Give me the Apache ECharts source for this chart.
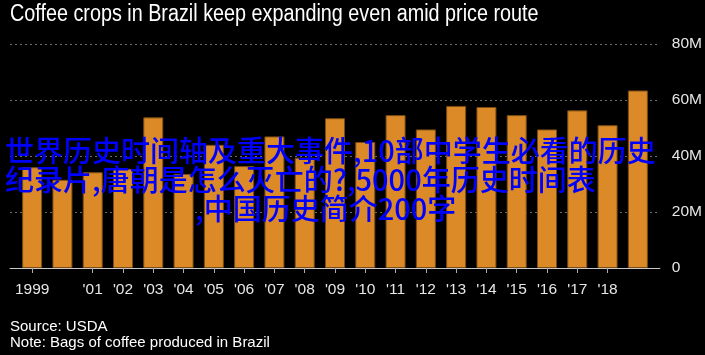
<!DOCTYPE html>
<html>
<head>
<meta charset="utf-8">
<script src="https://cdn.jsdelivr.net/npm/echarts@6/dist/echarts.min.js"></script>
<style>
html,body{margin:0;padding:0;background:#000;}
#chart{width:705px;height:355px;}
</style>
</head>
<body>
<div id="chart"></div>
<script>
var titleText = 'Coffee crops in Brazil keep expanding even amid price route';
var sourceText = 'Source: USDA';
var noteText = 'Note: Bags of coffee produced in Brazil';
var years = ['1999', '2000', '2001', '2002', '2003', '2004', '2005', '2006', '2007', '2008', '2009',
             '2010', '2011', '2012', '2013', '2014', '2015', '2016', '2017', '2018', '2019'];
var yearLabels = ['1999', '', "'01", "'02", "'03", "'04", "'05", "'06", "'07", "'08", "'09",
                  "'10", "'11", "'12", "'13", "'14", "'15", "'16", "'17", "'18", ''];
// millions of bags
var production = [36.0, 31.5, 34.2, 35.4, 53.8, 33.6, 44.0, 36.4, 47.0, 39.4, 53.5,
                  45.0, 54.6, 49.5, 57.9, 57.5, 54.6, 49.5, 56.3, 51.0, 63.4];
var yTicks = [0, 20, 40, 60, 80];
var overlayLines = ['世界历史时间轴及重大事件,10部中学生必看的历史',
                    '纪录片,唐朝是怎么灭亡的?,5000年历史时间表',
                    ',中国历史简介200字'];

var FONT = '"Liberation Sans", Arial, sans-serif';
var CJK = '"Noto Sans CJK SC", sans-serif';
var chart = echarts.init(document.getElementById('chart'));
chart.setOption({
  backgroundColor: '#000',
  animation: false,
  grid: [
    {left: 10, right: 45, top: 44, bottom: 87},
    {left: 17, width: 636, top: 44, bottom: 87}
  ],
  xAxis: [
    {type: 'value', gridIndex: 0, min: 0, max: 1, show: true,
     axisLine: {show: true, lineStyle: {color: '#c8c8c8', width: 1}},
     axisTick: {show: false}, axisLabel: {show: false}, splitLine: {show: false}},
    {type: 'category', gridIndex: 1, data: years,
     axisLine: {show: false},
     axisTick: {show: true, alignWithLabel: true, length: 5,
                interval: function (i) { return yearLabels[i] !== ''; },
                lineStyle: {color: '#aaa'}},
     axisLabel: {interval: 0, color: '#e6e6e6', fontFamily: FONT, fontSize: 15.5, margin: 14,
                 formatter: function (v, i) { return yearLabels[i]; }}}
  ],
  yAxis: [
    {type: 'value', gridIndex: 0, position: 'right', min: yTicks[0], max: yTicks[yTicks.length - 1], interval: 20,
     axisLine: {show: false}, axisTick: {show: false},
     axisLabel: {color: '#e6e6e6', fontFamily: FONT, fontSize: 15.5, margin: 12,
                 formatter: function (v) { return v === 0 ? '0' : v + 'M'; }},
     splitLine: {show: true, lineStyle: {color: '#6e6e6e', type: [2, 3], width: 1}}},
    {type: 'value', gridIndex: 1, min: yTicks[0], max: yTicks[yTicks.length - 1], show: false}
  ],
  series: [{
    type: 'bar', xAxisIndex: 1, yAxisIndex: 1, data: production, barWidth: 20,
    itemStyle: {color: '#dc8a27', borderColor: '#7a4c14', borderWidth: 1}
  }],
  graphic: [
    {type: 'text', x: 10, y: 3, scaleX: 0.86, style: {text: titleText, fill: '#fff', font: '23px ' + FONT}},
    {type: 'text', left: 10, top: 319, style: {text: sourceText, fill: '#fff', font: '15px ' + FONT}},
    {type: 'text', left: 10, top: 335, style: {text: noteText, fill: '#fff', font: '15px ' + FONT}},
    {type: 'text', left: 5, top: 136, z: 100, style: {text: overlayLines[0], fill: '#0000ff', font: '500 29px ' + CJK}},
    {type: 'text', left: 5, top: 165, z: 100, style: {text: overlayLines[1], fill: '#0000ff', font: '500 29px ' + CJK}},
    {type: 'text', left: 195, top: 194, z: 100, style: {text: overlayLines[2], fill: '#0000ff', font: '500 29px ' + CJK}}
  ]
});
</script>
</body>
</html>
